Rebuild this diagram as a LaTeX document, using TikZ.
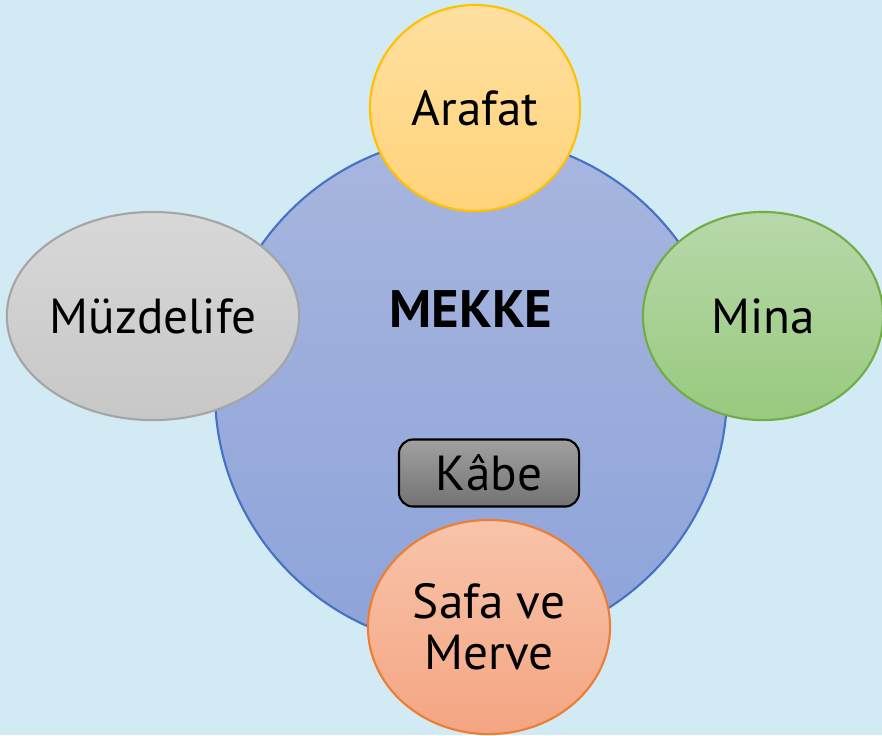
\documentclass[tikz,border=0pt]{standalone}
\usepackage{fontspec}
\setmainfont{PT Sans}
\usepackage{xcolor}
\usepackage{tikz}
\usetikzlibrary{shapes.geometric}

\definecolor{bgblue}{HTML}{D2EAF3}
\definecolor{mekketop}{HTML}{A8B6DF}
\definecolor{mekkebot}{HTML}{8DA3D9}
\definecolor{mekkeline}{HTML}{4472C4}

\tikzset{
  place/.style={ellipse,inner sep=0pt,line width=0.6pt,
    font=\fontsize{14}{14.5}\selectfont,align=center},
}

\begin{document}
\begin{tikzpicture}[x=0.01cm,y=-0.01cm]
\fill[bgblue] (0,0) rectangle (882,735);
\useasboundingbox (0,0) rectangle (882,735);
% main circle
\shade[top color=mekketop,bottom color=mekkebot] (471,392) circle (256);
\draw[mekkeline,line width=0.6pt] (471,392) circle (256);
\node[font=\fontsize{15}{18}\selectfont\bfseries] (mekke) at (471,309) {MEKKE};
\node[draw=black,rounded corners=4pt,line width=0.6pt,
      top color=black!37,bottom color=black!55,
      minimum width=1.8cm,minimum height=0.67cm,inner sep=0pt,
      font=\fontsize{14}{18}\selectfont] (kabe) at (489,473) {Kâbe};
% places round it
\node[place,draw={rgb,255:red,255;green,192;blue,0},
      top color={rgb,255:red,255;green,224;blue,160},
      bottom color={rgb,255:red,255;green,211;blue,122},
      minimum width=2.1cm,minimum height=2.06cm] (arafat) at (475,108) {Arafat};
\node[place,draw={rgb,255:red,165;green,165;blue,165},
      top color={rgb,255:red,216;green,216;blue,216},
      bottom color={rgb,255:red,199;green,199;blue,199},
      minimum width=2.86cm,minimum height=2.08cm] (muzdelife) at (153,316) {Müzdelife};
\node[place,draw={rgb,255:red,112;green,173;blue,71},
      top color={rgb,255:red,184;green,216;blue,170},
      bottom color={rgb,255:red,152;green,202;blue,126},
      minimum width=2.4cm,minimum height=2.08cm] (mina) at (763,316) {Mina};
\node[place,draw={rgb,255:red,237;green,125;blue,49},
      top color={rgb,255:red,248;green,196;blue,170},
      bottom color={rgb,255:red,244;green,165;blue,130},
      minimum width=2.42cm,minimum height=2.14cm] (safa) at (489,627) {Safa ve\\Merve};
\end{tikzpicture}
\end{document}
